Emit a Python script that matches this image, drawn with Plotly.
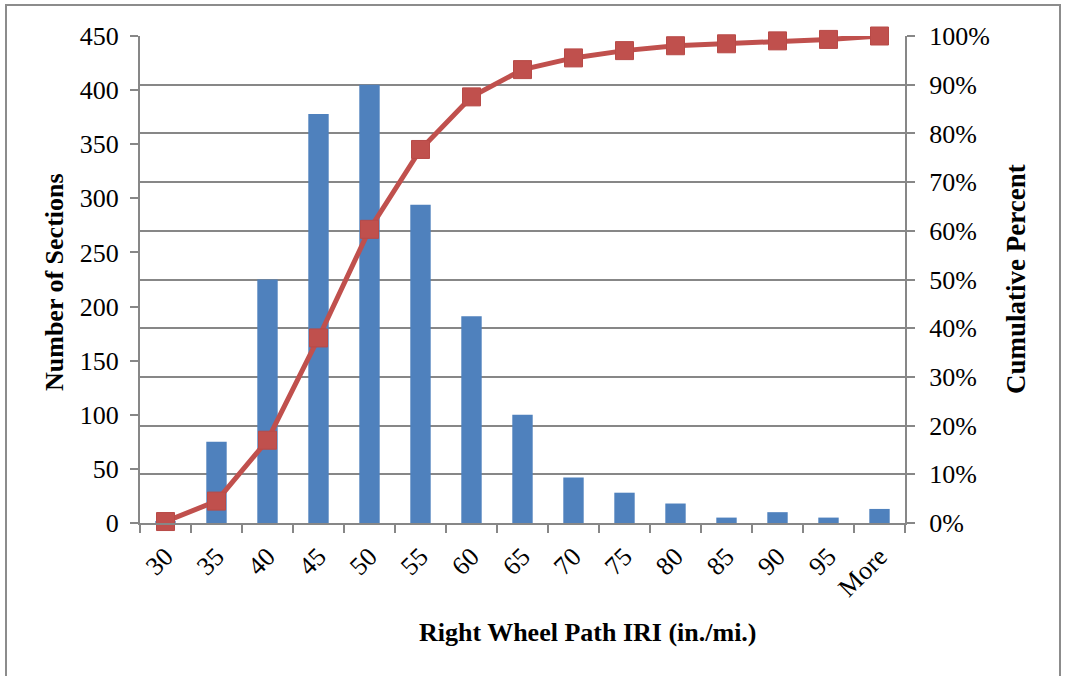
import plotly.graph_objects as go

categories = ["30", "35", "40", "45", "50", "55", "60", "65", "70", "75", "80", "85", "90", "95", "More"]
num_sections = [1, 75, 225, 378, 405, 294, 191, 100, 42, 28, 18, 5, 10, 5, 13]
cumulative_pct = [0.003, 0.045, 0.17, 0.38, 0.603, 0.767, 0.875, 0.931, 0.955, 0.97, 0.98, 0.984, 0.99, 0.993, 1.0]

left_ticks = list(range(0, 451, 50))

FONT = "Liberation Serif"
GRID = "#878787"
TICK_SIZE = 26
TITLE_SIZE = 26

fig = go.Figure()
fig.add_trace(go.Bar(
    x=categories, y=num_sections, marker=dict(color="#4F81BD", line=dict(width=0)),
    width=0.4, yaxis="y", name="Frequency", showlegend=False,
))
fig.add_trace(go.Scatter(
    x=categories, y=cumulative_pct, yaxis="y2", mode="lines+markers",
    line=dict(color="#C0504D", width=5),
    marker=dict(symbol="square", size=18, color="#C0504D", line=dict(color="#B84A47", width=1)),
    cliponaxis=False, showlegend=False, name="Cumulative %",
))

W, H = 1065, 676
L, R, T, B = 140, 160, 36, 153
pw, ph = W - L - R, H - T - B

def px(x):
    return (x - L) / pw

def py(y):
    return (H - B - y) / ph

fig.update_layout(
    width=W, height=H,
    margin=dict(l=L, r=R, t=T, b=B),
    paper_bgcolor="white", plot_bgcolor="white",
    font=dict(family=FONT, size=TICK_SIZE, color="black"),
    xaxis=dict(
        type="category", tickangle=-45, tickson="boundaries",
        ticks="outside", ticklen=8, tickwidth=2, tickcolor=GRID,
        showline=True, linecolor=GRID, linewidth=2,
        showgrid=False, tickfont=dict(family=FONT, size=TICK_SIZE),
        range=[-0.5, 14.5], ticklabelstandoff=6,
    ),
    yaxis=dict(
        range=[0, 450], tickvals=left_ticks, ticks="outside", ticklen=8, tickwidth=2,
        tickcolor=GRID, showline=True, linecolor=GRID, linewidth=2,
        showgrid=False, zeroline=False, tickfont=dict(family=FONT, size=TICK_SIZE),
        ticklabelstandoff=6,
    ),
    yaxis2=dict(
        range=[0, 1], dtick=0.1, tickformat=".0%", overlaying="y", side="right",
        ticks="outside", ticklen=8, tickwidth=2, tickcolor=GRID,
        showline=True, linecolor=GRID, linewidth=2,
        showgrid=True, gridcolor=GRID, gridwidth=1.8, zeroline=False,
        tickfont=dict(family=FONT, size=TICK_SIZE), ticklabelstandoff=9,
    ),
    shapes=[dict(
        type="rect", xref="paper", yref="paper",
        x0=px(6), x1=px(1060), y0=py(690), y1=py(5),
        line=dict(color="#8C8C8C", width=2), fillcolor="rgba(0,0,0,0)", layer="below",
    )],
    annotations=[
        dict(text="<b>Right Wheel Path IRI (in./mi.)</b>", xref="paper", yref="paper",
             x=px(588), y=py(632), showarrow=False, font=dict(family=FONT, size=TITLE_SIZE),
             xanchor="center", yanchor="middle"),
        dict(text="<b>Number of Sections</b>", xref="paper", yref="paper",
             x=px(54), y=py(282), showarrow=False, textangle=-90,
             font=dict(family=FONT, size=TITLE_SIZE), xanchor="center", yanchor="middle"),
        dict(text="<b>Cumulative Percent</b>", xref="paper", yref="paper",
             x=px(1016), y=py(279), showarrow=False, textangle=-90,
             font=dict(family=FONT, size=TITLE_SIZE + 1), xanchor="center", yanchor="middle"),
    ],
)

fig.write_html("out.html")
